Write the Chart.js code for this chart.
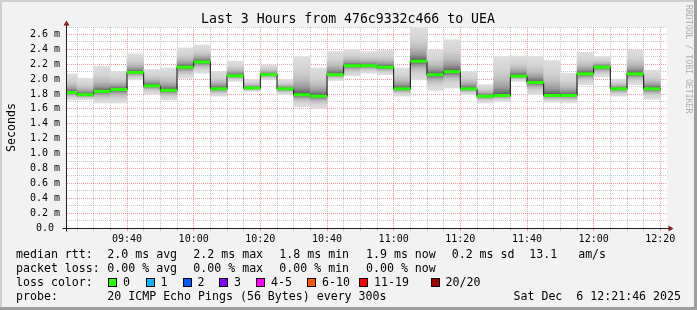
<!DOCTYPE html>
<html lang="en">
<head>
<meta charset="UTF-8">
<title>Last 3 Hours from 476c9332c466 to UEA</title>
<script src="https://cdn.jsdelivr.net/npm/chart.js"></script>
<style>
    html, body { margin: 0; padding: 0; background: #f2f2f2; }
    canvas { display: block; }
</style>
</head>
<body>
<canvas id="smoke" width="697" height="310"></canvas>
<script>
// one entry per 5 minute step (start of the step)
const stepTimes = ['09:20', '09:25', '09:30', '09:35', '09:40', '09:45', '09:50', '09:55',
    '10:00', '10:05', '10:10', '10:15', '10:20', '10:25', '10:30', '10:35', '10:40', '10:45',
    '10:50', '10:55', '11:00', '11:05', '11:10', '11:15', '11:20', '11:25', '11:30', '11:35',
    '11:40', '11:45', '11:50', '11:55', '12:00', '12:05', '12:10', '12:15'];
// median rtt in ms
const medianMs = [1.82, 1.79, 1.835, 1.86, 2.09, 1.91, 1.85, 2.16, 2.23, 1.87, 2.045, 1.88,
    2.06, 1.87, 1.79, 1.77, 2.06, 2.18, 2.18, 2.16, 1.87, 2.24, 2.06, 2.10, 1.87, 1.77, 1.78,
    2.04, 1.955, 1.78, 1.78, 2.07, 2.16, 1.87, 2.07, 1.87];
// slowest and fastest ping of each step (edges of the smoke)
const maxMs = [2.07, 2.01, 2.17, 2.10, 2.34, 2.13, 2.15, 2.42, 2.46, 2.10, 2.24, 1.99,
    2.19, 1.99, 2.30, 2.15, 2.37, 2.40, 2.37, 2.385, 2.15, 2.69, 2.39, 2.53, 2.10, 1.925, 2.30,
    2.31, 2.30, 2.25, 2.08, 2.36, 2.305, 2.00, 2.39, 2.12];
const minMs = [1.72, 1.72, 1.68, 1.68, 1.99, 1.80, 1.72, 2.01, 2.08, 1.77, 1.97, 1.835,
    1.99, 1.79, 1.63, 1.61, 1.98, 2.045, 2.08, 2.06, 1.77, 1.99, 1.85, 1.88, 1.79, 1.68, 1.70,
    1.97, 1.79, 1.69, 1.68, 1.925, 2.03, 1.77, 1.925, 1.73];
// packet loss per step (all zero)
const lossCount = new Array(36).fill(0);

const rttStats = ['2.0 ms avg', '2.2 ms max', '1.8 ms min', '1.9 ms now', '0.2 ms sd', '13.1   am/s'];
const lossStats = ['0.00 % avg', '0.00 % max', '0.00 % min', '0.00 % now'];
const lossLabels = ['0', '1', '2', '3', '4-5', '6-10', '11-19', '20/20'];
const lossColors = ['#26ff00', '#00b8ff', '#0059ff', '#7e00ff', '#ff00ff', '#ff5500', '#ff0000', '#a10000'];
const probeText = '20 ICMP Echo Pings (56 Bytes) every 300s';
const stampText = 'Sat Dec  6 12:21:46 2025';
const titleText = 'Last 3 Hours from 476c9332c466 to UEA';

const STEP = 5;
const viewStart = '09:22', viewEnd = '12:22';

const toMin = s => { const [h, m] = s.split(':').map(Number); return h * 60 + m; };
const fmt = v => String(Math.floor(v / 60)).padStart(2, '0') + ':' + String(v % 60).padStart(2, '0');
const mono = 'DejaVu Sans Mono';

const starts = stepTimes.map(toMin);
const upperSmoke = starts.map((t, i) => ({ x: t + STEP / 2, y: [medianMs[i], maxMs[i]] }));
const lowerSmoke = starts.map((t, i) => ({ x: t + STEP / 2, y: [minMs[i], medianMs[i]] }));
const stepLine = starts.map((t, i) => ({ x: t, y: medianMs[i] }));
stepLine.push({ x: starts[starts.length - 1] + STEP, y: medianMs[medianMs.length - 1] });
const greenBits = [];
starts.forEach((t, i) => {
    greenBits.push({ x: t, y: medianMs[i] }, { x: t + STEP, y: medianMs[i] }, { x: t + STEP, y: null });
});

// smoke: light at the outer pings, dark next to the median
function smoke(up) {
    return c => {
        if (c.type !== 'data') return '#d8d8d8';
        const y = c.chart.scales.y;
        const i = c.dataIndex;
        const edge = y.getPixelForValue(up ? maxMs[i] : minMs[i]);
        const mid = y.getPixelForValue(medianMs[i]);
        if (!isFinite(edge) || !isFinite(mid) || Math.abs(edge - mid) < 0.5) return '#555';
        const g = c.chart.ctx.createLinearGradient(0, edge, 0, mid);
        g.addColorStop(0, '#dedede');
        g.addColorStop(0.35, '#d3d3d3');
        g.addColorStop(0.6, '#bcbcbc');
        g.addColorStop(0.8, '#999999');
        g.addColorStop(0.93, '#6e6e6e');
        g.addColorStop(1, '#3c3c3c');
        return g;
    };
}

const gridColor = major => major ? 'rgba(222,79,79,0.55)' : 'rgba(143,143,143,0.5)';
const lossColorAt = i => lossColors[lossCount[Math.min(i, lossCount.length - 1)]];

const frame = {
    id: 'frame',
    beforeDraw(chart) {
        const { ctx, chartArea: a, width, height } = chart;
        ctx.save();
        ctx.fillStyle = '#f2f2f2';
        ctx.fillRect(0, 0, width, height);
        ctx.fillStyle = '#cfcfcf';
        ctx.fillRect(0, 0, width, 2);
        ctx.fillRect(0, 0, 2, height);
        ctx.fillStyle = '#9e9e9e';
        ctx.fillRect(0, height - 3, width, 3);
        ctx.fillRect(width - 3, 0, 3, height);
        ctx.fillStyle = '#ffffff';
        ctx.fillRect(a.left, a.top, a.right - a.left, a.bottom - a.top);
        ctx.restore();
    },
    afterDraw(chart) {
        const { ctx, chartArea: a } = chart;
        const ax = a.left - 0.5, ay = a.bottom + 0.5;
        ctx.save();
        // axes
        ctx.strokeStyle = '#1f1f1f';
        ctx.lineWidth = 1;
        ctx.beginPath();
        ctx.moveTo(ax - 4, ay); ctx.lineTo(a.right + 2, ay);
        ctx.moveTo(ax, ay + 3); ctx.lineTo(ax, a.top - 2);
        ctx.stroke();
        ctx.fillStyle = 'rgb(128,31,31)';
        ctx.beginPath();
        ctx.moveTo(ax - 3, a.top - 1.5); ctx.lineTo(ax + 3, a.top - 1.5); ctx.lineTo(ax, a.top - 6.5);
        ctx.closePath(); ctx.fill();
        ctx.beginPath();
        ctx.moveTo(a.right + 1.5, ay - 3); ctx.lineTo(a.right + 1.5, ay + 3); ctx.lineTo(a.right + 6.5, ay);
        ctx.closePath(); ctx.fill();

        ctx.fillStyle = '#000';
        ctx.textBaseline = 'alphabetic';
        ctx.font = '13.2px "' + mono + '"';
        ctx.textAlign = 'center';
        ctx.fillText(titleText, 348, 23);

        ctx.font = '11.6px "' + mono + '"';
        ctx.save();
        ctx.translate(15, 127.5);
        ctx.rotate(-Math.PI / 2);
        ctx.textAlign = 'center';
        ctx.fillText('Seconds', 0, 0);
        ctx.restore();

        ctx.save();
        ctx.fillStyle = '#adadad';
        ctx.font = '8.2px "' + mono + '"';
        ctx.translate(685.5, 5);
        ctx.rotate(Math.PI / 2);
        ctx.textAlign = 'left';
        ctx.fillText('RRDTOOL / TOBI OETIKER', 0, 0);
        ctx.restore();

        // legend
        ctx.textAlign = 'left';
        ctx.fillStyle = '#000';
        ctx.font = '11.6px "' + mono + '"';
        const col = [107.3, 193.3, 279.3, 366, 451.7, 529.3];
        ctx.fillText('median rtt:', 16, 258);
        rttStats.forEach((s, i) => ctx.fillText(s, col[i], 258));
        ctx.fillText('packet loss:', 16, 272);
        lossStats.forEach((s, i) => ctx.fillText(s, col[i], 272));
        ctx.fillText('loss color:', 16, 286);
        const boxX = [108, 145.5, 182.5, 219, 256, 307, 359, 430.5];
        lossLabels.forEach((s, i) => {
            const bx = Math.round(boxX[i]);
            ctx.fillStyle = lossColors[i];
            ctx.fillRect(bx, 278, 9, 9);
            ctx.strokeStyle = '#000';
            ctx.strokeRect(bx + 0.5, 278.5, 8, 8);
            ctx.fillStyle = '#000';
            ctx.fillText(s, boxX[i] + 15, 286);
        });
        ctx.fillText('probe:', 16, 300);
        ctx.fillText(probeText, 107.3, 300);
        ctx.textAlign = 'right';
        ctx.fillText(stampText, 681, 300);
        ctx.restore();
    }
};

new Chart(document.getElementById('smoke'), {
    type: 'bar',
    data: {
        datasets: [
            {
                type: 'line',
                label: 'median',
                data: greenBits,
                borderColor: lossColorAt(0),
                segment: { borderColor: c => lossColorAt(Math.floor(c.p0DataIndex / 3)) },
                borderWidth: 3,
                borderCapStyle: 'butt',
                pointRadius: 0,
                spanGaps: false,
                fill: false,
                clip: 0,
                order: 0
            },
            {
                type: 'line',
                label: 'median step',
                data: stepLine,
                borderColor: '#111111',
                borderWidth: 1,
                stepped: true,
                pointRadius: 0,
                fill: false,
                clip: 0,
                order: 1
            },
            {
                label: 'smoke up',
                data: upperSmoke,
                backgroundColor: smoke(true),
                borderWidth: 0,
                grouped: false,
                barPercentage: 1,
                categoryPercentage: 1,
                clip: 0,
                order: 2
            },
            {
                label: 'smoke down',
                data: lowerSmoke,
                backgroundColor: smoke(false),
                borderWidth: 0,
                grouped: false,
                barPercentage: 1,
                categoryPercentage: 1,
                clip: 0,
                order: 3
            }
        ]
    },
    options: {
        responsive: false,
        animation: false,
        events: [],
        layout: { padding: { left: 0, top: 27, right: 30, bottom: 0 } },
        plugins: { legend: { display: false }, tooltip: { enabled: false } },
        scales: {
            x: {
                type: 'linear',
                min: toMin(viewStart),
                max: toMin(viewEnd),
                offset: false,
                afterFit(s) { s.height = 82; },
                afterBuildTicks(s) {
                    const t = [];
                    for (let v = Math.ceil(s.min / STEP) * STEP; v <= s.max; v += STEP) t.push({ value: v });
                    s.ticks = t;
                },
                grid: {
                    offset: false,
                    color: c => gridColor(c.tick && c.tick.value % 20 === 0),
                    tickColor: c => gridColor(c.tick && c.tick.value % 20 === 0),
                    tickLength: 3
                },
                border: { display: false, dash: [1, 1] },
                ticks: {
                    autoSkip: false,
                    maxRotation: 0,
                    padding: 2,
                    color: '#000',
                    font: { family: mono, size: 10 },
                    callback: v => v % 20 === 0 ? fmt(v) : ''
                }
            },
            y: {
                type: 'linear',
                min: 0,
                max: 2.7,
                afterFit(s) { s.width = 67; },
                afterBuildTicks(s) {
                    const t = [];
                    for (let k = 0; k <= 27; k++) t.push({ value: k / 10 });
                    s.ticks = t;
                },
                grid: {
                    drawTicks: false,
                    color: c => gridColor(c.tick && Math.round(c.tick.value * 10) % 2 === 0)
                },
                border: { display: false, dash: [1, 1] },
                ticks: {
                    autoSkip: false,
                    padding: 7,
                    color: '#000',
                    font: { family: mono, size: 10 },
                    callback: v => {
                        const k = Math.round(v * 10);
                        if (k % 2) return '';
                        return k === 0 ? '0.0 ' : v.toFixed(1) + ' m';
                    }
                }
            }
        }
    },
    plugins: [frame]
});
</script>
</body>
</html>
